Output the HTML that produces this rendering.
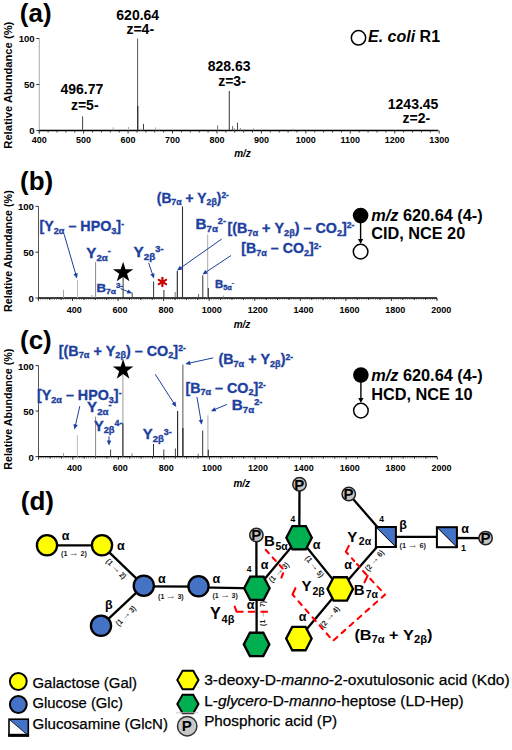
<!DOCTYPE html>
<html><head><meta charset="utf-8"><title>fig</title>
<style>
html,body{margin:0;padding:0;background:#fff;width:512px;height:750px;overflow:hidden;}
svg{display:block;}
</style></head>
<body>
<svg width="512" height="750" viewBox="0 0 512 750">
<rect width="512" height="750" fill="#fff"/>
<g font-family='"Liberation Sans",sans-serif'>
<text x="19.8" y="21.5" font-size="26" font-weight="bold" fill="#000" text-anchor="start" >(a)</text>
<text transform="translate(11.6,85.2) rotate(-90)" font-size="10.5" font-weight="bold" text-anchor="middle" textLength="127" lengthAdjust="spacingAndGlyphs">Relative Abundance (%)</text>
<line x1="39.3" y1="38.5" x2="39.3" y2="133.7" stroke="#aaa" stroke-width="1" />
<line x1="36.3" y1="38.5" x2="39.3" y2="38.5" stroke="#333" stroke-width="1" />
<text x="34.699999999999996" y="42.4" font-size="9.6" font-weight="bold" fill="#000" text-anchor="end" >100</text>
<line x1="36.3" y1="84.5" x2="39.3" y2="84.5" stroke="#333" stroke-width="1" />
<text x="34.699999999999996" y="88.4" font-size="9.6" font-weight="bold" fill="#000" text-anchor="end" >50</text>
<line x1="36.3" y1="130.5" x2="39.3" y2="130.5" stroke="#333" stroke-width="1" />
<text x="34.699999999999996" y="134.4" font-size="9.6" font-weight="bold" fill="#000" text-anchor="end" >0</text>
<line x1="39.3" y1="130.5" x2="438.3" y2="130.5" stroke="#000" stroke-width="1.7" />
<line x1="39.20000000000002" y1="130.5" x2="39.20000000000002" y2="133.5" stroke="#222" stroke-width="0.9" />
<line x1="48.087999999999994" y1="130.5" x2="48.087999999999994" y2="132.5" stroke="#222" stroke-width="0.9" />
<line x1="56.976" y1="130.5" x2="56.976" y2="132.5" stroke="#222" stroke-width="0.9" />
<line x1="65.864" y1="130.5" x2="65.864" y2="132.5" stroke="#222" stroke-width="0.9" />
<line x1="74.75200000000001" y1="130.5" x2="74.75200000000001" y2="132.5" stroke="#222" stroke-width="0.9" />
<line x1="83.64000000000001" y1="130.5" x2="83.64000000000001" y2="133.5" stroke="#222" stroke-width="0.9" />
<line x1="92.52800000000002" y1="130.5" x2="92.52800000000002" y2="132.5" stroke="#222" stroke-width="0.9" />
<line x1="101.416" y1="130.5" x2="101.416" y2="132.5" stroke="#222" stroke-width="0.9" />
<line x1="110.304" y1="130.5" x2="110.304" y2="132.5" stroke="#222" stroke-width="0.9" />
<line x1="119.19200000000001" y1="130.5" x2="119.19200000000001" y2="132.5" stroke="#222" stroke-width="0.9" />
<line x1="128.07999999999998" y1="130.5" x2="128.07999999999998" y2="133.5" stroke="#222" stroke-width="0.9" />
<line x1="136.96800000000002" y1="130.5" x2="136.96800000000002" y2="132.5" stroke="#222" stroke-width="0.9" />
<line x1="145.856" y1="130.5" x2="145.856" y2="132.5" stroke="#222" stroke-width="0.9" />
<line x1="154.74400000000003" y1="130.5" x2="154.74400000000003" y2="132.5" stroke="#222" stroke-width="0.9" />
<line x1="163.632" y1="130.5" x2="163.632" y2="132.5" stroke="#222" stroke-width="0.9" />
<line x1="172.51999999999998" y1="130.5" x2="172.51999999999998" y2="133.5" stroke="#222" stroke-width="0.9" />
<line x1="181.40800000000002" y1="130.5" x2="181.40800000000002" y2="132.5" stroke="#222" stroke-width="0.9" />
<line x1="190.296" y1="130.5" x2="190.296" y2="132.5" stroke="#222" stroke-width="0.9" />
<line x1="199.18400000000003" y1="130.5" x2="199.18400000000003" y2="132.5" stroke="#222" stroke-width="0.9" />
<line x1="208.072" y1="130.5" x2="208.072" y2="132.5" stroke="#222" stroke-width="0.9" />
<line x1="216.96000000000004" y1="130.5" x2="216.96000000000004" y2="133.5" stroke="#222" stroke-width="0.9" />
<line x1="225.848" y1="130.5" x2="225.848" y2="132.5" stroke="#222" stroke-width="0.9" />
<line x1="234.736" y1="130.5" x2="234.736" y2="132.5" stroke="#222" stroke-width="0.9" />
<line x1="243.62400000000002" y1="130.5" x2="243.62400000000002" y2="132.5" stroke="#222" stroke-width="0.9" />
<line x1="252.512" y1="130.5" x2="252.512" y2="132.5" stroke="#222" stroke-width="0.9" />
<line x1="261.40000000000003" y1="130.5" x2="261.40000000000003" y2="133.5" stroke="#222" stroke-width="0.9" />
<line x1="270.288" y1="130.5" x2="270.288" y2="132.5" stroke="#222" stroke-width="0.9" />
<line x1="279.176" y1="130.5" x2="279.176" y2="132.5" stroke="#222" stroke-width="0.9" />
<line x1="288.064" y1="130.5" x2="288.064" y2="132.5" stroke="#222" stroke-width="0.9" />
<line x1="296.952" y1="130.5" x2="296.952" y2="132.5" stroke="#222" stroke-width="0.9" />
<line x1="305.84000000000003" y1="130.5" x2="305.84000000000003" y2="133.5" stroke="#222" stroke-width="0.9" />
<line x1="314.728" y1="130.5" x2="314.728" y2="132.5" stroke="#222" stroke-width="0.9" />
<line x1="323.61600000000004" y1="130.5" x2="323.61600000000004" y2="132.5" stroke="#222" stroke-width="0.9" />
<line x1="332.504" y1="130.5" x2="332.504" y2="132.5" stroke="#222" stroke-width="0.9" />
<line x1="341.392" y1="130.5" x2="341.392" y2="132.5" stroke="#222" stroke-width="0.9" />
<line x1="350.28000000000003" y1="130.5" x2="350.28000000000003" y2="133.5" stroke="#222" stroke-width="0.9" />
<line x1="359.168" y1="130.5" x2="359.168" y2="132.5" stroke="#222" stroke-width="0.9" />
<line x1="368.05600000000004" y1="130.5" x2="368.05600000000004" y2="132.5" stroke="#222" stroke-width="0.9" />
<line x1="376.944" y1="130.5" x2="376.944" y2="132.5" stroke="#222" stroke-width="0.9" />
<line x1="385.83200000000005" y1="130.5" x2="385.83200000000005" y2="132.5" stroke="#222" stroke-width="0.9" />
<line x1="394.71999999999997" y1="130.5" x2="394.71999999999997" y2="133.5" stroke="#222" stroke-width="0.9" />
<line x1="403.608" y1="130.5" x2="403.608" y2="132.5" stroke="#222" stroke-width="0.9" />
<line x1="412.49600000000004" y1="130.5" x2="412.49600000000004" y2="132.5" stroke="#222" stroke-width="0.9" />
<line x1="421.38400000000007" y1="130.5" x2="421.38400000000007" y2="132.5" stroke="#222" stroke-width="0.9" />
<line x1="430.272" y1="130.5" x2="430.272" y2="132.5" stroke="#222" stroke-width="0.9" />
<line x1="439.16" y1="130.5" x2="439.16" y2="133.5" stroke="#222" stroke-width="0.9" />
<text x="39.20000000000002" y="142.6" font-size="9" font-weight="bold" fill="#000" text-anchor="middle" >400</text>
<text x="83.64000000000001" y="142.6" font-size="9" font-weight="bold" fill="#000" text-anchor="middle" >500</text>
<text x="128.07999999999998" y="142.6" font-size="9" font-weight="bold" fill="#000" text-anchor="middle" >600</text>
<text x="172.51999999999998" y="142.6" font-size="9" font-weight="bold" fill="#000" text-anchor="middle" >700</text>
<text x="216.96000000000004" y="142.6" font-size="9" font-weight="bold" fill="#000" text-anchor="middle" >800</text>
<text x="261.40000000000003" y="142.6" font-size="9" font-weight="bold" fill="#000" text-anchor="middle" >900</text>
<text x="305.84000000000003" y="142.6" font-size="9" font-weight="bold" fill="#000" text-anchor="middle" >1000</text>
<text x="350.28000000000003" y="142.6" font-size="9" font-weight="bold" fill="#000" text-anchor="middle" >1100</text>
<text x="394.71999999999997" y="142.6" font-size="9" font-weight="bold" fill="#000" text-anchor="middle" >1200</text>
<text x="439.16" y="142.6" font-size="9" font-weight="bold" fill="#000" text-anchor="middle" >1300</text>
<text x="242.5" y="157" font-size="10" font-weight="bold" fill="#000" text-anchor="middle" font-style="italic" >m/z</text>
<line x1="82.6" y1="116.4" x2="82.6" y2="130.5" stroke="#444" stroke-width="1" />
<line x1="113.2" y1="127.3" x2="113.2" y2="130.5" stroke="#999" stroke-width="0.8" />
<line x1="128.5" y1="127.0" x2="128.5" y2="130.5" stroke="#999" stroke-width="0.8" />
<line x1="137.6" y1="38.5" x2="137.6" y2="130.5" stroke="#555" stroke-width="1.0" />
<line x1="137.8" y1="106.0" x2="137.8" y2="130.5" stroke="#222" stroke-width="1.1" />
<line x1="141.0" y1="128.5" x2="141.0" y2="130.5" stroke="#aaa" stroke-width="0.8" />
<line x1="143.5" y1="123.9" x2="143.5" y2="130.5" stroke="#444" stroke-width="1.0" />
<line x1="155.5" y1="127.3" x2="155.5" y2="130.5" stroke="#999" stroke-width="0.8" />
<line x1="159.0" y1="128.8" x2="159.0" y2="130.5" stroke="#bbb" stroke-width="0.8" />
<line x1="217.6" y1="125.4" x2="217.6" y2="130.5" stroke="#666" stroke-width="0.9" />
<line x1="229.3" y1="90.9" x2="229.3" y2="130.5" stroke="#444" stroke-width="1.1" />
<line x1="232.6" y1="126.0" x2="232.6" y2="130.5" stroke="#555" stroke-width="0.9" />
<line x1="234.6" y1="128.4" x2="234.6" y2="130.5" stroke="#777" stroke-width="0.8" />
<line x1="237.5" y1="122.7" x2="237.5" y2="130.5" stroke="#444" stroke-width="1.0" />
<line x1="240.4" y1="128.0" x2="240.4" y2="130.5" stroke="#777" stroke-width="0.8" />
<line x1="243.6" y1="129.0" x2="243.6" y2="130.5" stroke="#999" stroke-width="0.8" />
<line x1="253.5" y1="128.4" x2="253.5" y2="130.5" stroke="#888" stroke-width="0.8" />
<line x1="292.7" y1="128.8" x2="292.7" y2="130.5" stroke="#999" stroke-width="0.8" />
<line x1="302.1" y1="128.8" x2="302.1" y2="130.5" stroke="#aaa" stroke-width="0.8" />
<text x="137.75" y="20" font-size="14" font-weight="bold" fill="#000" text-anchor="middle" >620.64</text>
<text x="140.25" y="33.7" font-size="14" font-weight="bold" fill="#000" text-anchor="middle" >z=4-</text>
<text x="81.9" y="94.3" font-size="14" font-weight="bold" fill="#000" text-anchor="middle" >496.77</text>
<text x="84.75" y="109.5" font-size="14" font-weight="bold" fill="#000" text-anchor="middle" >z=5-</text>
<text x="229.1" y="70.5" font-size="14" font-weight="bold" fill="#000" text-anchor="middle" >828.63</text>
<text x="232" y="86.2" font-size="14" font-weight="bold" fill="#000" text-anchor="middle" >z=3-</text>
<text x="413.1" y="108.7" font-size="14" font-weight="bold" fill="#000" text-anchor="middle" >1243.45</text>
<text x="416.4" y="122.5" font-size="14" font-weight="bold" fill="#000" text-anchor="middle" >z=2-</text>
<circle cx="358.5" cy="37.8" r="7.2" fill="none" stroke="#000" stroke-width="1.5"/>
<text x="368" y="41.8" font-size="16" font-weight="bold"><tspan font-style="italic">E. coli</tspan> R1</text>
<text x="20.0" y="190" font-size="26" font-weight="bold" fill="#000" text-anchor="start" >(b)</text>
<text transform="translate(11.6,251.1) rotate(-90)" font-size="10.5" font-weight="bold" text-anchor="middle" textLength="121.6" lengthAdjust="spacingAndGlyphs">Relative Abundance (%)</text>
<line x1="38.5" y1="206.4" x2="38.5" y2="301.2" stroke="#555" stroke-width="1" />
<line x1="35.5" y1="206.4" x2="38.5" y2="206.4" stroke="#333" stroke-width="1" />
<text x="33.9" y="210.3" font-size="9.6" font-weight="bold" fill="#000" text-anchor="end" >100</text>
<line x1="35.5" y1="252.2" x2="38.5" y2="252.2" stroke="#333" stroke-width="1" />
<text x="33.9" y="256.09999999999997" font-size="9.6" font-weight="bold" fill="#000" text-anchor="end" >50</text>
<line x1="35.5" y1="298" x2="38.5" y2="298" stroke="#333" stroke-width="1" />
<text x="33.9" y="301.9" font-size="9.6" font-weight="bold" fill="#000" text-anchor="end" >0</text>
<path d="M38.33,298v2.0M40.61,298v2.0M42.89,298v2.0M45.16,298v2.0M47.44,298v2.0M49.72,298v2.0M52.00,298v2.0M54.28,298v2.0M56.55,298v2.0M58.83,298v2.0M61.11,298v2.0M63.39,298v2.0M65.67,298v2.0M67.94,298v2.0M70.22,298v2.0M72.50,298v2.0M74.78,298v2.0M77.06,298v2.0M79.33,298v2.0M81.61,298v2.0M83.89,298v2.0M86.17,298v2.0M88.45,298v2.0M90.72,298v2.0M93.00,298v2.0M95.28,298v2.0M97.56,298v2.0M99.84,298v2.0M102.11,298v2.0M104.39,298v2.0M106.67,298v2.0M108.95,298v2.0M111.23,298v2.0M113.50,298v2.0M115.78,298v2.0M118.06,298v2.0M120.34,298v2.0M122.62,298v2.0M124.89,298v2.0M127.17,298v2.0M129.45,298v2.0M131.73,298v2.0M134.01,298v2.0M136.28,298v2.0M138.56,298v2.0M140.84,298v2.0M143.12,298v2.0M145.40,298v2.0M147.67,298v2.0M149.95,298v2.0M152.23,298v2.0M154.51,298v2.0M156.79,298v2.0M159.06,298v2.0M161.34,298v2.0M163.62,298v2.0M165.90,298v2.0M168.18,298v2.0M170.45,298v2.0M172.73,298v2.0M175.01,298v2.0M177.29,298v2.0M179.57,298v2.0M181.84,298v2.0M184.12,298v2.0M186.40,298v2.0M188.68,298v2.0M190.96,298v2.0M193.23,298v2.0M195.51,298v2.0M197.79,298v2.0M200.07,298v2.0M202.35,298v2.0M204.62,298v2.0M206.90,298v2.0M209.18,298v2.0M211.46,298v2.0M213.74,298v2.0M216.01,298v2.0M218.29,298v2.0M220.57,298v2.0M222.85,298v2.0M225.13,298v2.0M227.40,298v2.0M229.68,298v2.0M231.96,298v2.0M234.24,298v2.0M236.52,298v2.0M238.79,298v2.0M241.07,298v2.0M243.35,298v2.0M245.63,298v2.0M247.91,298v2.0M250.18,298v2.0M252.46,298v2.0M254.74,298v2.0M257.02,298v2.0M259.30,298v2.0M261.57,298v2.0M263.85,298v2.0M266.13,298v2.0M268.41,298v2.0M270.69,298v2.0M272.96,298v2.0M275.24,298v2.0M277.52,298v2.0M279.80,298v2.0M282.08,298v2.0M284.35,298v2.0M286.63,298v2.0M288.91,298v2.0M291.19,298v2.0M293.47,298v2.0M295.74,298v2.0M298.02,298v2.0M300.30,298v2.0M302.58,298v2.0M304.86,298v2.0M307.13,298v2.0M309.41,298v2.0M311.69,298v2.0M313.97,298v2.0M316.25,298v2.0M318.52,298v2.0M320.80,298v2.0M323.08,298v2.0M325.36,298v2.0M327.64,298v2.0M329.91,298v2.0M332.19,298v2.0M334.47,298v2.0M336.75,298v2.0M339.03,298v2.0M341.30,298v2.0M343.58,298v2.0M345.86,298v2.0M348.14,298v2.0M350.42,298v2.0M352.69,298v2.0M354.97,298v2.0M357.25,298v2.0M359.53,298v2.0M361.81,298v2.0M364.08,298v2.0M366.36,298v2.0M368.64,298v2.0M370.92,298v2.0M373.20,298v2.0M375.47,298v2.0M377.75,298v2.0M380.03,298v2.0M382.31,298v2.0M384.59,298v2.0M386.86,298v2.0M389.14,298v2.0M391.42,298v2.0M393.70,298v2.0M395.98,298v2.0M398.25,298v2.0M400.53,298v2.0M402.81,298v2.0M405.09,298v2.0M407.37,298v2.0M409.64,298v2.0M411.92,298v2.0M414.20,298v2.0M416.48,298v2.0M418.76,298v2.0M421.03,298v2.0M423.31,298v2.0M425.59,298v2.0M427.87,298v2.0M430.15,298v2.0M432.42,298v2.0M434.70,298v2.0M436.98,298v2.0" stroke="#777" stroke-width="0.6" fill="none"/>
<line x1="38.5" y1="298" x2="437" y2="298" stroke="#000" stroke-width="1.3" />
<line x1="38.33" y1="298" x2="38.33" y2="300" stroke="#222" stroke-width="0.9" />
<line x1="49.72" y1="298" x2="49.72" y2="300" stroke="#222" stroke-width="0.9" />
<line x1="61.11" y1="298" x2="61.11" y2="300" stroke="#222" stroke-width="0.9" />
<line x1="72.5" y1="298" x2="72.5" y2="301" stroke="#222" stroke-width="0.9" />
<line x1="83.89" y1="298" x2="83.89" y2="300" stroke="#222" stroke-width="0.9" />
<line x1="95.28" y1="298" x2="95.28" y2="300" stroke="#222" stroke-width="0.9" />
<line x1="106.67" y1="298" x2="106.67" y2="300" stroke="#222" stroke-width="0.9" />
<line x1="118.06" y1="298" x2="118.06" y2="301" stroke="#222" stroke-width="0.9" />
<line x1="129.45" y1="298" x2="129.45" y2="300" stroke="#222" stroke-width="0.9" />
<line x1="140.84" y1="298" x2="140.84" y2="300" stroke="#222" stroke-width="0.9" />
<line x1="152.23" y1="298" x2="152.23" y2="300" stroke="#222" stroke-width="0.9" />
<line x1="163.62" y1="298" x2="163.62" y2="301" stroke="#222" stroke-width="0.9" />
<line x1="175.01" y1="298" x2="175.01" y2="300" stroke="#222" stroke-width="0.9" />
<line x1="186.4" y1="298" x2="186.4" y2="300" stroke="#222" stroke-width="0.9" />
<line x1="197.79" y1="298" x2="197.79" y2="300" stroke="#222" stroke-width="0.9" />
<line x1="209.18" y1="298" x2="209.18" y2="301" stroke="#222" stroke-width="0.9" />
<line x1="220.57" y1="298" x2="220.57" y2="300" stroke="#222" stroke-width="0.9" />
<line x1="231.96" y1="298" x2="231.96" y2="300" stroke="#222" stroke-width="0.9" />
<line x1="243.35000000000002" y1="298" x2="243.35000000000002" y2="300" stroke="#222" stroke-width="0.9" />
<line x1="254.74" y1="298" x2="254.74" y2="301" stroke="#222" stroke-width="0.9" />
<line x1="266.13" y1="298" x2="266.13" y2="300" stroke="#222" stroke-width="0.9" />
<line x1="277.52" y1="298" x2="277.52" y2="300" stroke="#222" stroke-width="0.9" />
<line x1="288.91" y1="298" x2="288.91" y2="300" stroke="#222" stroke-width="0.9" />
<line x1="300.3" y1="298" x2="300.3" y2="301" stroke="#222" stroke-width="0.9" />
<line x1="311.69" y1="298" x2="311.69" y2="300" stroke="#222" stroke-width="0.9" />
<line x1="323.08" y1="298" x2="323.08" y2="300" stroke="#222" stroke-width="0.9" />
<line x1="334.47" y1="298" x2="334.47" y2="300" stroke="#222" stroke-width="0.9" />
<line x1="345.86" y1="298" x2="345.86" y2="301" stroke="#222" stroke-width="0.9" />
<line x1="357.25" y1="298" x2="357.25" y2="300" stroke="#222" stroke-width="0.9" />
<line x1="368.64" y1="298" x2="368.64" y2="300" stroke="#222" stroke-width="0.9" />
<line x1="380.03" y1="298" x2="380.03" y2="300" stroke="#222" stroke-width="0.9" />
<line x1="391.42" y1="298" x2="391.42" y2="301" stroke="#222" stroke-width="0.9" />
<line x1="402.81" y1="298" x2="402.81" y2="300" stroke="#222" stroke-width="0.9" />
<line x1="414.2" y1="298" x2="414.2" y2="300" stroke="#222" stroke-width="0.9" />
<line x1="425.59" y1="298" x2="425.59" y2="300" stroke="#222" stroke-width="0.9" />
<line x1="436.98" y1="298" x2="436.98" y2="301" stroke="#222" stroke-width="0.9" />
<text x="74.192" y="312.7" font-size="9" font-weight="bold" fill="#000" text-anchor="middle" >400</text>
<text x="120.06800000000001" y="312.7" font-size="9" font-weight="bold" fill="#000" text-anchor="middle" >600</text>
<text x="165.944" y="312.7" font-size="9" font-weight="bold" fill="#000" text-anchor="middle" >800</text>
<text x="211.82" y="312.7" font-size="9" font-weight="bold" fill="#000" text-anchor="middle" >1000</text>
<text x="257.696" y="312.7" font-size="9" font-weight="bold" fill="#000" text-anchor="middle" >1200</text>
<text x="303.572" y="312.7" font-size="9" font-weight="bold" fill="#000" text-anchor="middle" >1400</text>
<text x="349.448" y="312.7" font-size="9" font-weight="bold" fill="#000" text-anchor="middle" >1600</text>
<text x="395.324" y="312.7" font-size="9" font-weight="bold" fill="#000" text-anchor="middle" >1800</text>
<text x="441.2" y="312.7" font-size="9" font-weight="bold" fill="#000" text-anchor="middle" >2000</text>
<text x="242" y="328.3" font-size="10" font-weight="bold" fill="#000" text-anchor="middle" font-style="italic" >m/z</text>
<line x1="63.5" y1="289.8" x2="63.5" y2="298" stroke="#999" stroke-width="0.9" />
<line x1="77.5" y1="280" x2="77.5" y2="298" stroke="#bbb" stroke-width="1" />
<line x1="95.6" y1="262" x2="95.6" y2="298" stroke="#888" stroke-width="1" />
<line x1="123.1" y1="277" x2="123.1" y2="298" stroke="#333" stroke-width="1" />
<line x1="132.2" y1="292.5" x2="132.2" y2="298" stroke="#444" stroke-width="1" />
<line x1="153.6" y1="281.6" x2="153.6" y2="298" stroke="#333" stroke-width="1" />
<line x1="163.9" y1="290" x2="163.9" y2="298" stroke="#333" stroke-width="1" />
<line x1="175.2" y1="292" x2="175.2" y2="298" stroke="#555" stroke-width="0.8" />
<line x1="177.3" y1="271" x2="177.3" y2="298" stroke="#222" stroke-width="1.1" />
<line x1="182.5" y1="206.4" x2="182.5" y2="298" stroke="#333" stroke-width="1.1" />
<line x1="198.6" y1="294" x2="198.6" y2="298" stroke="#555" stroke-width="0.9" />
<line x1="202.8" y1="275.5" x2="202.8" y2="298" stroke="#333" stroke-width="1" />
<line x1="207.7" y1="234.5" x2="207.7" y2="298" stroke="#aaa" stroke-width="1" />
<line x1="208.3" y1="288" x2="208.3" y2="298" stroke="#222" stroke-width="1" />
<line x1="223.4" y1="295.5" x2="223.4" y2="298" stroke="#777" stroke-width="0.8" />
<line x1="92" y1="295" x2="92" y2="298" stroke="#888" stroke-width="0.8" />
<text x="20.0" y="349" font-size="26" font-weight="bold" fill="#000" text-anchor="start" >(c)</text>
<text transform="translate(11.6,409.25) rotate(-90)" font-size="10.5" font-weight="bold" text-anchor="middle" textLength="121" lengthAdjust="spacingAndGlyphs">Relative Abundance (%)</text>
<line x1="38.5" y1="365.6" x2="38.5" y2="459.8" stroke="#555" stroke-width="1" />
<line x1="35.5" y1="365.6" x2="38.5" y2="365.6" stroke="#333" stroke-width="1" />
<text x="33.9" y="369.5" font-size="9.6" font-weight="bold" fill="#000" text-anchor="end" >100</text>
<line x1="35.5" y1="411.1" x2="38.5" y2="411.1" stroke="#333" stroke-width="1" />
<text x="33.9" y="415.0" font-size="9.6" font-weight="bold" fill="#000" text-anchor="end" >50</text>
<line x1="35.5" y1="456.6" x2="38.5" y2="456.6" stroke="#333" stroke-width="1" />
<text x="33.9" y="460.5" font-size="9.6" font-weight="bold" fill="#000" text-anchor="end" >0</text>
<path d="M38.63,456.6v2.0M40.91,456.6v2.0M43.19,456.6v2.0M45.46,456.6v2.0M47.74,456.6v2.0M50.02,456.6v2.0M52.30,456.6v2.0M54.58,456.6v2.0M56.85,456.6v2.0M59.13,456.6v2.0M61.41,456.6v2.0M63.69,456.6v2.0M65.97,456.6v2.0M68.24,456.6v2.0M70.52,456.6v2.0M72.80,456.6v2.0M75.08,456.6v2.0M77.36,456.6v2.0M79.63,456.6v2.0M81.91,456.6v2.0M84.19,456.6v2.0M86.47,456.6v2.0M88.75,456.6v2.0M91.02,456.6v2.0M93.30,456.6v2.0M95.58,456.6v2.0M97.86,456.6v2.0M100.14,456.6v2.0M102.41,456.6v2.0M104.69,456.6v2.0M106.97,456.6v2.0M109.25,456.6v2.0M111.53,456.6v2.0M113.80,456.6v2.0M116.08,456.6v2.0M118.36,456.6v2.0M120.64,456.6v2.0M122.92,456.6v2.0M125.19,456.6v2.0M127.47,456.6v2.0M129.75,456.6v2.0M132.03,456.6v2.0M134.31,456.6v2.0M136.58,456.6v2.0M138.86,456.6v2.0M141.14,456.6v2.0M143.42,456.6v2.0M145.70,456.6v2.0M147.97,456.6v2.0M150.25,456.6v2.0M152.53,456.6v2.0M154.81,456.6v2.0M157.09,456.6v2.0M159.36,456.6v2.0M161.64,456.6v2.0M163.92,456.6v2.0M166.20,456.6v2.0M168.48,456.6v2.0M170.75,456.6v2.0M173.03,456.6v2.0M175.31,456.6v2.0M177.59,456.6v2.0M179.87,456.6v2.0M182.14,456.6v2.0M184.42,456.6v2.0M186.70,456.6v2.0M188.98,456.6v2.0M191.26,456.6v2.0M193.53,456.6v2.0M195.81,456.6v2.0M198.09,456.6v2.0M200.37,456.6v2.0M202.65,456.6v2.0M204.92,456.6v2.0M207.20,456.6v2.0M209.48,456.6v2.0M211.76,456.6v2.0M214.04,456.6v2.0M216.31,456.6v2.0M218.59,456.6v2.0M220.87,456.6v2.0M223.15,456.6v2.0M225.43,456.6v2.0M227.70,456.6v2.0M229.98,456.6v2.0M232.26,456.6v2.0M234.54,456.6v2.0M236.82,456.6v2.0M239.09,456.6v2.0M241.37,456.6v2.0M243.65,456.6v2.0M245.93,456.6v2.0M248.21,456.6v2.0M250.48,456.6v2.0M252.76,456.6v2.0M255.04,456.6v2.0M257.32,456.6v2.0M259.60,456.6v2.0M261.87,456.6v2.0M264.15,456.6v2.0M266.43,456.6v2.0M268.71,456.6v2.0M270.99,456.6v2.0M273.26,456.6v2.0M275.54,456.6v2.0M277.82,456.6v2.0M280.10,456.6v2.0M282.38,456.6v2.0M284.65,456.6v2.0M286.93,456.6v2.0M289.21,456.6v2.0M291.49,456.6v2.0M293.77,456.6v2.0M296.04,456.6v2.0M298.32,456.6v2.0M300.60,456.6v2.0M302.88,456.6v2.0M305.16,456.6v2.0M307.43,456.6v2.0M309.71,456.6v2.0M311.99,456.6v2.0M314.27,456.6v2.0M316.55,456.6v2.0M318.82,456.6v2.0M321.10,456.6v2.0M323.38,456.6v2.0M325.66,456.6v2.0M327.94,456.6v2.0M330.21,456.6v2.0M332.49,456.6v2.0M334.77,456.6v2.0M337.05,456.6v2.0M339.33,456.6v2.0M341.60,456.6v2.0M343.88,456.6v2.0M346.16,456.6v2.0M348.44,456.6v2.0M350.72,456.6v2.0M352.99,456.6v2.0M355.27,456.6v2.0M357.55,456.6v2.0M359.83,456.6v2.0M362.11,456.6v2.0M364.38,456.6v2.0M366.66,456.6v2.0M368.94,456.6v2.0M371.22,456.6v2.0M373.50,456.6v2.0M375.77,456.6v2.0M378.05,456.6v2.0M380.33,456.6v2.0M382.61,456.6v2.0M384.89,456.6v2.0M387.16,456.6v2.0M389.44,456.6v2.0M391.72,456.6v2.0M394.00,456.6v2.0M396.28,456.6v2.0M398.55,456.6v2.0M400.83,456.6v2.0M403.11,456.6v2.0M405.39,456.6v2.0M407.67,456.6v2.0M409.94,456.6v2.0M412.22,456.6v2.0M414.50,456.6v2.0M416.78,456.6v2.0M419.06,456.6v2.0M421.33,456.6v2.0M423.61,456.6v2.0M425.89,456.6v2.0M428.17,456.6v2.0M430.45,456.6v2.0M432.72,456.6v2.0M435.00,456.6v2.0M437.28,456.6v2.0" stroke="#777" stroke-width="0.6" fill="none"/>
<line x1="38.5" y1="456.6" x2="437" y2="456.6" stroke="#000" stroke-width="1.3" />
<line x1="38.629999999999995" y1="456.6" x2="38.629999999999995" y2="458.6" stroke="#222" stroke-width="0.9" />
<line x1="50.019999999999996" y1="456.6" x2="50.019999999999996" y2="458.6" stroke="#222" stroke-width="0.9" />
<line x1="61.41" y1="456.6" x2="61.41" y2="458.6" stroke="#222" stroke-width="0.9" />
<line x1="72.8" y1="456.6" x2="72.8" y2="459.6" stroke="#222" stroke-width="0.9" />
<line x1="84.19" y1="456.6" x2="84.19" y2="458.6" stroke="#222" stroke-width="0.9" />
<line x1="95.58" y1="456.6" x2="95.58" y2="458.6" stroke="#222" stroke-width="0.9" />
<line x1="106.97" y1="456.6" x2="106.97" y2="458.6" stroke="#222" stroke-width="0.9" />
<line x1="118.36" y1="456.6" x2="118.36" y2="459.6" stroke="#222" stroke-width="0.9" />
<line x1="129.75" y1="456.6" x2="129.75" y2="458.6" stroke="#222" stroke-width="0.9" />
<line x1="141.14000000000001" y1="456.6" x2="141.14000000000001" y2="458.6" stroke="#222" stroke-width="0.9" />
<line x1="152.53" y1="456.6" x2="152.53" y2="458.6" stroke="#222" stroke-width="0.9" />
<line x1="163.92000000000002" y1="456.6" x2="163.92000000000002" y2="459.6" stroke="#222" stroke-width="0.9" />
<line x1="175.31" y1="456.6" x2="175.31" y2="458.6" stroke="#222" stroke-width="0.9" />
<line x1="186.70000000000002" y1="456.6" x2="186.70000000000002" y2="458.6" stroke="#222" stroke-width="0.9" />
<line x1="198.09" y1="456.6" x2="198.09" y2="458.6" stroke="#222" stroke-width="0.9" />
<line x1="209.48000000000002" y1="456.6" x2="209.48000000000002" y2="459.6" stroke="#222" stroke-width="0.9" />
<line x1="220.87" y1="456.6" x2="220.87" y2="458.6" stroke="#222" stroke-width="0.9" />
<line x1="232.26000000000002" y1="456.6" x2="232.26000000000002" y2="458.6" stroke="#222" stroke-width="0.9" />
<line x1="243.65000000000003" y1="456.6" x2="243.65000000000003" y2="458.6" stroke="#222" stroke-width="0.9" />
<line x1="255.04000000000002" y1="456.6" x2="255.04000000000002" y2="459.6" stroke="#222" stroke-width="0.9" />
<line x1="266.43" y1="456.6" x2="266.43" y2="458.6" stroke="#222" stroke-width="0.9" />
<line x1="277.82" y1="456.6" x2="277.82" y2="458.6" stroke="#222" stroke-width="0.9" />
<line x1="289.21000000000004" y1="456.6" x2="289.21000000000004" y2="458.6" stroke="#222" stroke-width="0.9" />
<line x1="300.6" y1="456.6" x2="300.6" y2="459.6" stroke="#222" stroke-width="0.9" />
<line x1="311.99" y1="456.6" x2="311.99" y2="458.6" stroke="#222" stroke-width="0.9" />
<line x1="323.38" y1="456.6" x2="323.38" y2="458.6" stroke="#222" stroke-width="0.9" />
<line x1="334.77000000000004" y1="456.6" x2="334.77000000000004" y2="458.6" stroke="#222" stroke-width="0.9" />
<line x1="346.16" y1="456.6" x2="346.16" y2="459.6" stroke="#222" stroke-width="0.9" />
<line x1="357.55" y1="456.6" x2="357.55" y2="458.6" stroke="#222" stroke-width="0.9" />
<line x1="368.94" y1="456.6" x2="368.94" y2="458.6" stroke="#222" stroke-width="0.9" />
<line x1="380.33" y1="456.6" x2="380.33" y2="458.6" stroke="#222" stroke-width="0.9" />
<line x1="391.72" y1="456.6" x2="391.72" y2="459.6" stroke="#222" stroke-width="0.9" />
<line x1="403.11" y1="456.6" x2="403.11" y2="458.6" stroke="#222" stroke-width="0.9" />
<line x1="414.5" y1="456.6" x2="414.5" y2="458.6" stroke="#222" stroke-width="0.9" />
<line x1="425.89" y1="456.6" x2="425.89" y2="458.6" stroke="#222" stroke-width="0.9" />
<line x1="437.28000000000003" y1="456.6" x2="437.28000000000003" y2="459.6" stroke="#222" stroke-width="0.9" />
<text x="74.49199999999999" y="471.4" font-size="9" font-weight="bold" fill="#000" text-anchor="middle" >400</text>
<text x="120.36800000000001" y="471.4" font-size="9" font-weight="bold" fill="#000" text-anchor="middle" >600</text>
<text x="166.244" y="471.4" font-size="9" font-weight="bold" fill="#000" text-anchor="middle" >800</text>
<text x="212.12" y="471.4" font-size="9" font-weight="bold" fill="#000" text-anchor="middle" >1000</text>
<text x="257.99600000000004" y="471.4" font-size="9" font-weight="bold" fill="#000" text-anchor="middle" >1200</text>
<text x="303.872" y="471.4" font-size="9" font-weight="bold" fill="#000" text-anchor="middle" >1400</text>
<text x="349.748" y="471.4" font-size="9" font-weight="bold" fill="#000" text-anchor="middle" >1600</text>
<text x="395.624" y="471.4" font-size="9" font-weight="bold" fill="#000" text-anchor="middle" >1800</text>
<text x="441.5" y="471.4" font-size="9" font-weight="bold" fill="#000" text-anchor="middle" >2000</text>
<text x="241.8" y="486.6" font-size="10" font-weight="bold" fill="#000" text-anchor="middle" font-style="italic" >m/z</text>
<line x1="63.5" y1="453" x2="63.5" y2="456.6" stroke="#999" stroke-width="0.9" />
<line x1="77.4" y1="435.3" x2="77.4" y2="456.6" stroke="#bbb" stroke-width="1" />
<line x1="95.6" y1="416.5" x2="95.6" y2="456.6" stroke="#888" stroke-width="1" />
<line x1="110.6" y1="449.6" x2="110.6" y2="456.6" stroke="#444" stroke-width="1" />
<line x1="122.9" y1="372" x2="122.9" y2="456.6" stroke="#999" stroke-width="1" />
<line x1="122.9" y1="423.6" x2="122.9" y2="456.6" stroke="#333" stroke-width="1.1" />
<line x1="132" y1="453.5" x2="132" y2="456.6" stroke="#666" stroke-width="0.9" />
<line x1="153.5" y1="444" x2="153.5" y2="456.6" stroke="#333" stroke-width="1" />
<line x1="163.8" y1="449.5" x2="163.8" y2="456.6" stroke="#444" stroke-width="1" />
<line x1="175.4" y1="448.5" x2="175.4" y2="456.6" stroke="#444" stroke-width="1" />
<line x1="177.6" y1="411" x2="177.6" y2="456.6" stroke="#222" stroke-width="1.1" />
<line x1="182.9" y1="364.6" x2="182.9" y2="456.6" stroke="#555" stroke-width="1.0" />
<line x1="182.9" y1="428.0" x2="182.9" y2="456.6" stroke="#222" stroke-width="1.1" />
<line x1="198.2" y1="453.8" x2="198.2" y2="456.6" stroke="#555" stroke-width="0.9" />
<line x1="202.7" y1="430.5" x2="202.7" y2="456.6" stroke="#333" stroke-width="1" />
<line x1="207.9" y1="415.3" x2="207.9" y2="456.6" stroke="#aaa" stroke-width="1" />
<line x1="208.3" y1="449.7" x2="208.3" y2="456.6" stroke="#222" stroke-width="1" />
<text x="39.5" y="231.3" font-weight="bold" fill="#1d3f9e" stroke="#1d3f9e" stroke-width="0.35" textLength="84.5" lengthAdjust="spacingAndGlyphs" xml:space="preserve"><tspan font-size="14.8">[Y</tspan><tspan dy="2.81" font-size="9.472000000000001">2α</tspan><tspan dy="-2.81" font-size="14.8"> – HPO</tspan><tspan dy="2.81" font-size="9.472000000000001">3</tspan><tspan dy="-2.81" font-size="14.8">]</tspan><tspan dy="-4.44" font-size="8.88">-</tspan></text>
<text x="86.3" y="258.4" font-weight="bold" fill="#1d3f9e" stroke="#1d3f9e" stroke-width="0.35" textLength="24.5" lengthAdjust="spacingAndGlyphs" xml:space="preserve"><tspan font-size="14.8">Y</tspan><tspan dy="2.81" font-size="9.472000000000001">2α</tspan><tspan dy="-7.25" font-size="8.88">-</tspan></text>
<text x="96.5" y="291.7" font-weight="bold" fill="#1d3f9e" stroke="#1d3f9e" stroke-width="0.35" textLength="26.5" lengthAdjust="spacingAndGlyphs" xml:space="preserve"><tspan font-size="11">B</tspan><tspan dy="2.09" font-size="7.04">7α</tspan><tspan dy="-5.39" font-size="6.6">3-</tspan></text>
<text x="133.6" y="256.7" font-weight="bold" fill="#1d3f9e" stroke="#1d3f9e" stroke-width="0.35" textLength="30" lengthAdjust="spacingAndGlyphs" xml:space="preserve"><tspan font-size="14.8">Y</tspan><tspan dy="2.81" font-size="9.472000000000001">2β</tspan><tspan dy="-7.25" font-size="8.88">3-</tspan></text>
<text x="156.8" y="202.5" font-weight="bold" fill="#1d3f9e" stroke="#1d3f9e" stroke-width="0.35" textLength="72" lengthAdjust="spacingAndGlyphs" xml:space="preserve"><tspan font-size="14.8">(B</tspan><tspan dy="2.81" font-size="9.472000000000001">7α</tspan><tspan dy="-2.81" font-size="14.8"> + Y</tspan><tspan dy="2.81" font-size="9.472000000000001">2β</tspan><tspan dy="-2.81" font-size="14.8">)</tspan><tspan dy="-4.44" font-size="8.88">2-</tspan></text>
<text x="195.5" y="228.8" font-weight="bold" fill="#1d3f9e" stroke="#1d3f9e" stroke-width="0.35" textLength="30.5" lengthAdjust="spacingAndGlyphs" xml:space="preserve"><tspan font-size="14.8">B</tspan><tspan dy="2.81" font-size="9.472000000000001">7α</tspan><tspan dy="-7.25" font-size="8.88">2-</tspan></text>
<text x="227.5" y="232.8" font-weight="bold" fill="#1d3f9e" stroke="#1d3f9e" stroke-width="0.35" textLength="127" lengthAdjust="spacingAndGlyphs" xml:space="preserve"><tspan font-size="14.8">[(B</tspan><tspan dy="2.81" font-size="9.472000000000001">7α</tspan><tspan dy="-2.81" font-size="14.8"> + Y</tspan><tspan dy="2.81" font-size="9.472000000000001">2β</tspan><tspan dy="-2.81" font-size="14.8">) – CO</tspan><tspan dy="2.81" font-size="9.472000000000001">2</tspan><tspan dy="-2.81" font-size="14.8">]</tspan><tspan dy="-4.44" font-size="8.88">2-</tspan></text>
<text x="241.3" y="253.2" font-weight="bold" fill="#1d3f9e" stroke="#1d3f9e" stroke-width="0.35" textLength="80" lengthAdjust="spacingAndGlyphs" xml:space="preserve"><tspan font-size="14.8">[B</tspan><tspan dy="2.81" font-size="9.472000000000001">7α</tspan><tspan dy="-2.81" font-size="14.8"> – CO</tspan><tspan dy="2.81" font-size="9.472000000000001">2</tspan><tspan dy="-2.81" font-size="14.8">]</tspan><tspan dy="-4.44" font-size="8.88">2-</tspan></text>
<text x="215.0" y="288.1" font-weight="bold" fill="#1d3f9e" stroke="#1d3f9e" stroke-width="0.35" textLength="19" lengthAdjust="spacingAndGlyphs" xml:space="preserve"><tspan font-size="10">B</tspan><tspan dy="1.90" font-size="6.4">5α</tspan><tspan dy="-4.90" font-size="6.0">-</tspan></text>
<line x1="64.2" y1="234.5" x2="75.74" y2="274.18" stroke="#1d3f9e" stroke-width="1"/>
<polygon points="77.0,278.5 73.49,274.31 77.72,273.08" fill="#1d3f9e"/>
<line x1="148.6" y1="262.8" x2="152.54" y2="274.34" stroke="#1d3f9e" stroke-width="1"/>
<polygon points="154.0,278.6 150.30,274.58 154.46,273.16" fill="#1d3f9e"/>
<line x1="120.5" y1="288.6" x2="128.02" y2="291.62" stroke="#1d3f9e" stroke-width="1"/>
<polygon points="132.2,293.3 126.74,293.48 128.38,289.39" fill="#1d3f9e"/>
<line x1="221.7" y1="239.0" x2="180.68" y2="267.91" stroke="#1d3f9e" stroke-width="1"/>
<polygon points="177.0,270.5 179.82,265.82 182.35,269.42" fill="#1d3f9e"/>
<line x1="231.0" y1="255.5" x2="206.15" y2="272.01" stroke="#1d3f9e" stroke-width="1"/>
<polygon points="202.4,274.5 205.35,269.90 207.78,273.57" fill="#1d3f9e"/>
<polygon points="123.10,261.80 125.52,269.26 133.37,269.26 127.02,273.87 129.45,281.34 123.10,276.73 116.75,281.34 119.18,273.87 112.83,269.26 120.68,269.26" fill="#000"/>
<line x1="162.40" y1="277.80" x2="162.40" y2="286.20" stroke="#cc0000" stroke-width="2.2" stroke-linecap="round"/>
<line x1="166.04" y1="279.90" x2="158.76" y2="284.10" stroke="#cc0000" stroke-width="2.2" stroke-linecap="round"/>
<line x1="166.04" y1="284.10" x2="158.76" y2="279.90" stroke="#cc0000" stroke-width="2.2" stroke-linecap="round"/>
<circle cx="360.6" cy="215.6" r="7.8" fill="#000"/>
<circle cx="360.6" cy="251.6" r="7.3" fill="#fff" stroke="#000" stroke-width="1.5"/>
<line x1="360.6" y1="222.6" x2="360.60" y2="239.50" stroke="#000" stroke-width="1.4"/>
<polygon points="360.6,244.0 358.00,239.00 363.20,239.00" fill="#000"/>
<text x="371.2" y="221.3" font-size="16" font-weight="bold" textLength="111.5" lengthAdjust="spacingAndGlyphs"><tspan font-style="italic">m/z</tspan> 620.64 (4-)</text>
<text x="371.2" y="239.2" font-size="16" font-weight="bold" textLength="94" lengthAdjust="spacingAndGlyphs">CID, NCE 20</text>
<text x="58.8" y="355.5" font-weight="bold" fill="#1d3f9e" stroke="#1d3f9e" stroke-width="0.35" textLength="127" lengthAdjust="spacingAndGlyphs" xml:space="preserve"><tspan font-size="14.8">[(B</tspan><tspan dy="2.81" font-size="9.472000000000001">7α</tspan><tspan dy="-2.81" font-size="14.8"> + Y</tspan><tspan dy="2.81" font-size="9.472000000000001">2β</tspan><tspan dy="-2.81" font-size="14.8">) – CO</tspan><tspan dy="2.81" font-size="9.472000000000001">2</tspan><tspan dy="-2.81" font-size="14.8">]</tspan><tspan dy="-4.44" font-size="8.88">2-</tspan></text>
<text x="218.5" y="364.3" font-weight="bold" fill="#1d3f9e" stroke="#1d3f9e" stroke-width="0.35" textLength="74.5" lengthAdjust="spacingAndGlyphs" xml:space="preserve"><tspan font-size="14.8">(B</tspan><tspan dy="2.81" font-size="9.472000000000001">7α</tspan><tspan dy="-2.81" font-size="14.8"> + Y</tspan><tspan dy="2.81" font-size="9.472000000000001">2β</tspan><tspan dy="-2.81" font-size="14.8">)</tspan><tspan dy="-4.44" font-size="8.88">2-</tspan></text>
<text x="37.0" y="400.4" font-weight="bold" fill="#1d3f9e" stroke="#1d3f9e" stroke-width="0.35" textLength="84.5" lengthAdjust="spacingAndGlyphs" xml:space="preserve"><tspan font-size="14.8">[Y</tspan><tspan dy="2.81" font-size="9.472000000000001">2α</tspan><tspan dy="-2.81" font-size="14.8"> – HPO</tspan><tspan dy="2.81" font-size="9.472000000000001">3</tspan><tspan dy="-2.81" font-size="14.8">]</tspan><tspan dy="-4.44" font-size="8.88">-</tspan></text>
<text x="87.1" y="412.2" font-weight="bold" fill="#1d3f9e" stroke="#1d3f9e" stroke-width="0.35" textLength="24.5" lengthAdjust="spacingAndGlyphs" xml:space="preserve"><tspan font-size="14.8">Y</tspan><tspan dy="2.81" font-size="9.472000000000001">2α</tspan><tspan dy="-7.25" font-size="8.88">-</tspan></text>
<text x="185.4" y="392.6" font-weight="bold" fill="#1d3f9e" stroke="#1d3f9e" stroke-width="0.35" textLength="80.5" lengthAdjust="spacingAndGlyphs" xml:space="preserve"><tspan font-size="14.8">[B</tspan><tspan dy="2.81" font-size="9.472000000000001">7α</tspan><tspan dy="-2.81" font-size="14.8"> – CO</tspan><tspan dy="2.81" font-size="9.472000000000001">2</tspan><tspan dy="-2.81" font-size="14.8">]</tspan><tspan dy="-4.44" font-size="8.88">2-</tspan></text>
<text x="231.8" y="409.7" font-weight="bold" fill="#1d3f9e" stroke="#1d3f9e" stroke-width="0.35" textLength="30.5" lengthAdjust="spacingAndGlyphs" xml:space="preserve"><tspan font-size="14.8">B</tspan><tspan dy="2.81" font-size="9.472000000000001">7α</tspan><tspan dy="-7.25" font-size="8.88">2-</tspan></text>
<text x="93.9" y="430.5" font-weight="bold" fill="#1d3f9e" stroke="#1d3f9e" stroke-width="0.35" textLength="28.5" lengthAdjust="spacingAndGlyphs" xml:space="preserve"><tspan font-size="14.8">Y</tspan><tspan dy="2.81" font-size="9.472000000000001">2β</tspan><tspan dy="-7.25" font-size="8.88">4-</tspan></text>
<text x="142.8" y="439.0" font-weight="bold" fill="#1d3f9e" stroke="#1d3f9e" stroke-width="0.35" textLength="29" lengthAdjust="spacingAndGlyphs" xml:space="preserve"><tspan font-size="14.8">Y</tspan><tspan dy="2.81" font-size="9.472000000000001">2β</tspan><tspan dy="-7.25" font-size="8.88">3-</tspan></text>
<line x1="79.8" y1="406.2" x2="75.50" y2="425.01" stroke="#1d3f9e" stroke-width="1"/>
<polygon points="74.5,429.4 73.47,424.04 77.76,425.02" fill="#1d3f9e"/>
<line x1="109.0" y1="436.3" x2="109.00" y2="441.00" stroke="#1d3f9e" stroke-width="1"/>
<polygon points="109.0,445.5 106.80,440.50 111.20,440.50" fill="#1d3f9e"/>
<line x1="155.2" y1="374.2" x2="173.87" y2="403.22" stroke="#1d3f9e" stroke-width="1"/>
<polygon points="176.3,407.0 171.74,403.99 175.45,401.60" fill="#1d3f9e"/>
<line x1="213.2" y1="357.9" x2="189.70" y2="363.04" stroke="#1d3f9e" stroke-width="1"/>
<polygon points="185.3,364.0 189.71,360.78 190.65,365.08" fill="#1d3f9e"/>
<line x1="196.9" y1="396.9" x2="200.94" y2="420.37" stroke="#1d3f9e" stroke-width="1"/>
<polygon points="201.7,424.8 198.68,420.25 203.02,419.50" fill="#1d3f9e"/>
<line x1="226.9" y1="404.4" x2="214.95" y2="409.45" stroke="#1d3f9e" stroke-width="1"/>
<polygon points="210.8,411.2 214.55,407.23 216.26,411.28" fill="#1d3f9e"/>
<polygon points="123.10,359.10 125.52,366.56 133.37,366.56 127.02,371.17 129.45,378.64 123.10,374.03 116.75,378.64 119.18,371.17 112.83,366.56 120.68,366.56" fill="#000"/>
<circle cx="360.9" cy="375.0" r="7.8" fill="#000"/>
<circle cx="360.9" cy="410.6" r="7.3" fill="#fff" stroke="#000" stroke-width="1.5"/>
<line x1="360.9" y1="382.0" x2="360.90" y2="398.50" stroke="#000" stroke-width="1.4"/>
<polygon points="360.9,403.0 358.30,398.00 363.50,398.00" fill="#000"/>
<text x="371.2" y="381.3" font-size="16" font-weight="bold" textLength="111.5" lengthAdjust="spacingAndGlyphs"><tspan font-style="italic">m/z</tspan> 620.64 (4-)</text>
<text x="371.2" y="399.7" font-size="16" font-weight="bold" textLength="101.4" lengthAdjust="spacingAndGlyphs">HCD, NCE 10</text>
<text x="20.8" y="510.2" font-size="26" font-weight="bold" fill="#000" text-anchor="start" >(d)</text>
<line x1="47" y1="545.3" x2="102" y2="545.3" stroke="#000" stroke-width="2.3" />
<line x1="102" y1="545.3" x2="143.8" y2="585.7" stroke="#000" stroke-width="2.3" />
<line x1="143.8" y1="585.7" x2="101" y2="625.8" stroke="#000" stroke-width="2.3" />
<line x1="143.8" y1="586.3" x2="198.5" y2="586.6" stroke="#000" stroke-width="2.3" />
<line x1="198.5" y1="587.3" x2="256.9" y2="588.3" stroke="#000" stroke-width="2.3" />
<line x1="256.4" y1="588.3" x2="256.4" y2="535" stroke="#000" stroke-width="2.3" />
<line x1="256.6" y1="588.3" x2="256.6" y2="644.4" stroke="#000" stroke-width="2.3" />
<line x1="256.9" y1="588.3" x2="299.1" y2="537.7" stroke="#000" stroke-width="2.3" />
<line x1="299.3" y1="537.7" x2="299.5" y2="484.3" stroke="#000" stroke-width="2.3" />
<line x1="299.1" y1="537.7" x2="340.3" y2="588.9" stroke="#000" stroke-width="2.3" />
<line x1="340.3" y1="588.9" x2="298.9" y2="638.6" stroke="#000" stroke-width="2.3" />
<line x1="340.3" y1="588.9" x2="385.9" y2="536.8" stroke="#000" stroke-width="2.3" />
<line x1="385.9" y1="536.8" x2="348.75" y2="494" stroke="#000" stroke-width="2.3" />
<line x1="385.9" y1="536.9" x2="446.7" y2="536.9" stroke="#000" stroke-width="2.3" />
<line x1="446.7" y1="538.0" x2="485.6" y2="538.2" stroke="#000" stroke-width="2.3" />
<circle cx="47" cy="545.3" r="10.1" fill="#ffff00" stroke="#000" stroke-width="2.3"/>
<circle cx="102" cy="545.3" r="10.1" fill="#ffff00" stroke="#000" stroke-width="2.3"/>
<circle cx="143.8" cy="585.7" r="10.1" fill="#4472c4" stroke="#000" stroke-width="2.3"/>
<circle cx="198.5" cy="586.3" r="10.1" fill="#4472c4" stroke="#000" stroke-width="2.3"/>
<circle cx="101" cy="625.8" r="10.1" fill="#4472c4" stroke="#000" stroke-width="2.3"/>
<polygon points="244.15,588.30 250.20,576.65 263.60,576.65 269.65,588.30 263.60,599.95 250.20,599.95" fill="#00b050" stroke="#000" stroke-width="2.3" stroke-linejoin="miter"/>
<polygon points="286.35,537.70 292.40,526.05 305.80,526.05 311.85,537.70 305.80,549.35 292.40,549.35" fill="#00b050" stroke="#000" stroke-width="2.3" stroke-linejoin="miter"/>
<polygon points="243.85,644.40 249.90,632.75 263.30,632.75 269.35,644.40 263.30,656.05 249.90,656.05" fill="#00b050" stroke="#000" stroke-width="2.3" stroke-linejoin="miter"/>
<polygon points="327.55,588.90 333.60,577.25 347.00,577.25 353.05,588.90 347.00,600.55 333.60,600.55" fill="#ffff00" stroke="#000" stroke-width="2.3" stroke-linejoin="miter"/>
<polygon points="286.15,638.60 292.20,626.95 305.60,626.95 311.65,638.60 305.60,650.25 292.20,650.25" fill="#ffff00" stroke="#000" stroke-width="2.3" stroke-linejoin="miter"/>
<rect x="375.90" y="527.00" width="20.0" height="20.0" fill="#fff"/>
<polygon points="375.90,527.00 395.90,527.00 395.90,547.00" fill="#4472c4"/>
<line x1="375.90" y1="527.00" x2="395.90" y2="547.00" stroke="#000" stroke-width="1"/>
<rect x="375.90" y="527.00" width="20.0" height="20.0" fill="none" stroke="#000" stroke-width="2"/>
<rect x="436.90" y="527.20" width="20.0" height="20.0" fill="#fff"/>
<polygon points="436.90,527.20 456.90,527.20 456.90,547.20" fill="#4472c4"/>
<line x1="436.90" y1="527.20" x2="456.90" y2="547.20" stroke="#000" stroke-width="1"/>
<rect x="436.90" y="527.20" width="20.0" height="20.0" fill="none" stroke="#000" stroke-width="2"/>
<circle cx="299.5" cy="484.3" r="6.7" fill="#c4c4c4" stroke="#222" stroke-width="1.5"/>
<text x="299.3" y="489.55" font-size="15" font-weight="bold" text-anchor="middle">P</text>
<circle cx="256.4" cy="535" r="6.7" fill="#c4c4c4" stroke="#222" stroke-width="1.5"/>
<text x="256.2" y="540.25" font-size="15" font-weight="bold" text-anchor="middle">P</text>
<circle cx="348.75" cy="494" r="6.7" fill="#c4c4c4" stroke="#222" stroke-width="1.5"/>
<text x="348.55" y="499.25" font-size="15" font-weight="bold" text-anchor="middle">P</text>
<circle cx="485.6" cy="538.1" r="6.7" fill="#c4c4c4" stroke="#222" stroke-width="1.5"/>
<text x="485.40000000000003" y="543.35" font-size="15" font-weight="bold" text-anchor="middle">P</text>
<text x="65.7" y="540.4" font-size="12.5" font-weight="bold" fill="#000" text-anchor="middle" >α</text>
<text x="120.8" y="549.8" font-size="12.5" font-weight="bold" fill="#000" text-anchor="middle" >α</text>
<text x="161.75" y="583.4" font-size="12.5" font-weight="bold" fill="#000" text-anchor="middle" >α</text>
<text x="108.75" y="609.2" font-size="12.5" font-weight="bold" fill="#000" text-anchor="middle" >β</text>
<text x="216.4" y="583.0" font-size="12.5" font-weight="bold" fill="#000" text-anchor="middle" >α</text>
<text x="264.5" y="568.5" font-size="12.5" font-weight="bold" fill="#000" text-anchor="middle" >α</text>
<text x="250.5" y="608.6" font-size="12.5" font-weight="bold" fill="#000" text-anchor="middle" >α</text>
<text x="316.5" y="548.7" font-size="12.5" font-weight="bold" fill="#000" text-anchor="middle" >α</text>
<text x="348.0" y="569.3" font-size="12.5" font-weight="bold" fill="#000" text-anchor="middle" >α</text>
<text x="302.5" y="620.9" font-size="12.5" font-weight="bold" fill="#000" text-anchor="middle" >α</text>
<text x="403.0" y="529.4" font-size="12.5" font-weight="bold" fill="#000" text-anchor="middle" >β</text>
<text x="465.0" y="533.1" font-size="12.5" font-weight="bold" fill="#000" text-anchor="middle" >α</text>
<text x="249.0" y="572.3" font-size="8.5" font-weight="bold" fill="#000" text-anchor="middle" >4</text>
<text x="292.75" y="521.9" font-size="8.5" font-weight="bold" fill="#000" text-anchor="middle" >4</text>
<text x="381.5" y="522.4" font-size="8.5" font-weight="bold" fill="#000" text-anchor="middle" >4</text>
<text x="463.6" y="550.5" font-size="9" font-weight="bold" fill="#000" text-anchor="middle" >1</text>
<text transform="translate(73.9,554.0) rotate(0)" y="1.95" font-size="7.8" font-weight="bold" fill="#1a1a1a" text-anchor="middle" textLength="25.8" lengthAdjust="spacingAndGlyphs">(1 <tspan font-size="11" font-weight="normal" fill="#555">→</tspan> 2)</text>
<text transform="translate(115.8,569.3) rotate(45)" y="1.95" font-size="7.8" font-weight="bold" fill="#1a1a1a" text-anchor="middle" textLength="25" lengthAdjust="spacingAndGlyphs">(1 <tspan font-size="11" font-weight="normal" fill="#555">→</tspan> 2)</text>
<text transform="translate(170.9,597.0) rotate(0)" y="1.95" font-size="7.8" font-weight="bold" fill="#1a1a1a" text-anchor="middle" textLength="25.7" lengthAdjust="spacingAndGlyphs">(1 <tspan font-size="11" font-weight="normal" fill="#555">→</tspan> 3)</text>
<text transform="translate(126.3,616.2) rotate(-45)" y="1.95" font-size="7.8" font-weight="bold" fill="#1a1a1a" text-anchor="middle" textLength="25" lengthAdjust="spacingAndGlyphs">(1 <tspan font-size="11" font-weight="normal" fill="#555">→</tspan> 3)</text>
<text transform="translate(225.2,596.1) rotate(0)" y="1.95" font-size="7.8" font-weight="bold" fill="#1a1a1a" text-anchor="middle" textLength="25.4" lengthAdjust="spacingAndGlyphs">(1 <tspan font-size="11" font-weight="normal" fill="#555">→</tspan> 3)</text>
<text transform="translate(279.4,572.7) rotate(-45)" y="1.95" font-size="7.8" font-weight="bold" fill="#1a1a1a" text-anchor="middle" textLength="25" lengthAdjust="spacingAndGlyphs">(1 <tspan font-size="11" font-weight="normal" fill="#555">→</tspan> 3)</text>
<text transform="translate(263.0,613.4) rotate(-90)" y="1.95" font-size="7.8" font-weight="bold" fill="#1a1a1a" text-anchor="middle" textLength="25" lengthAdjust="spacingAndGlyphs">(1 <tspan font-size="11" font-weight="normal" fill="#555">→</tspan> 7)</text>
<text transform="translate(314.0,567.0) rotate(52)" y="1.95" font-size="7.8" font-weight="bold" fill="#1a1a1a" text-anchor="middle" textLength="25" lengthAdjust="spacingAndGlyphs">(1 <tspan font-size="11" font-weight="normal" fill="#555">→</tspan> 5)</text>
<text transform="translate(375.0,561.0) rotate(-50)" y="1.95" font-size="7.8" font-weight="bold" fill="#1a1a1a" text-anchor="middle" textLength="25" lengthAdjust="spacingAndGlyphs">(2 <tspan font-size="11" font-weight="normal" fill="#555">→</tspan> 6)</text>
<text transform="translate(330.4,617.3) rotate(-50)" y="1.95" font-size="7.8" font-weight="bold" fill="#1a1a1a" text-anchor="middle" textLength="25" lengthAdjust="spacingAndGlyphs">(2 <tspan font-size="11" font-weight="normal" fill="#555">→</tspan> 4)</text>
<text transform="translate(412.7,546.4) rotate(0)" y="1.95" font-size="7.8" font-weight="bold" fill="#1a1a1a" text-anchor="middle" textLength="26.5" lengthAdjust="spacingAndGlyphs">(1 <tspan font-size="11" font-weight="normal" fill="#555">→</tspan> 6)</text>
<text x="264.0" y="546.2" font-weight="bold" fill="#000" xml:space="preserve"><tspan font-size="15">B</tspan><tspan dy="3.80" dx="0.6" font-size="10.5">5α</tspan></text>
<text x="210.0" y="618.8" font-weight="bold" fill="#000" xml:space="preserve"><tspan font-size="16.2">Y</tspan><tspan dy="4.40" dx="0.8" font-size="11">4β</tspan></text>
<text x="301.6" y="591.0" font-weight="bold" fill="#000" xml:space="preserve"><tspan font-size="15">Y</tspan><tspan dy="3.60" dx="0.8" font-size="10.5">2β</tspan></text>
<text x="353.8" y="594.6" font-weight="bold" fill="#000" xml:space="preserve"><tspan font-size="15">B</tspan><tspan dy="3.40" dx="1.0" font-size="10.5">7α</tspan></text>
<text x="347.3" y="541.6" font-weight="bold" fill="#000" xml:space="preserve"><tspan font-size="15">Y</tspan><tspan dy="3.80" dx="1.5" font-size="10.5">2α</tspan></text>
<text x="354.4" y="639.7" font-weight="bold" fill="#000" textLength="78" lengthAdjust="spacingAndGlyphs" xml:space="preserve"><tspan font-size="15.3">(B</tspan><tspan dy="3.60" font-size="10.5">7α</tspan><tspan dy="-3.60" font-size="15.3"> + Y</tspan><tspan dy="3.60" font-size="10.5">2β</tspan><tspan dy="-3.60" font-size="15.3">)</tspan></text>
<path d="M265.70,549.80 L268.84,553.26M272.61,557.42 L275.75,560.88M279.52,565.04 L282.67,568.50M283.13,573.25 L281.40,577.60" fill="none" stroke="#ff0000" stroke-width="2.1" stroke-linecap="round" stroke-linejoin="round"/>
<path d="M234.70,606.70 L236.60,611.70 L242.75,611.70M248.75,611.70 L254.49,611.70M261.37,611.70 L267.10,611.70" fill="none" stroke="#ff0000" stroke-width="2.1" stroke-linecap="round" stroke-linejoin="round"/>
<path d="M348.80,545.90 L345.90,551.70 L347.92,553.94M351.93,558.40 L354.23,560.96M357.00,564.04 L359.30,566.60" fill="none" stroke="#ff0000" stroke-width="2.1" stroke-linecap="round" stroke-linejoin="round"/>
<path d="M367.60,575.80 L364.50,582.40" fill="none" stroke="#ff0000" stroke-width="2.1" stroke-linecap="round" stroke-linejoin="round"/>
<path d="M295.40,588.20 L292.50,594.50 L294.52,596.81M298.47,601.32 L301.66,604.97M305.49,609.36 L308.69,613.01M312.52,617.39 L315.72,621.04M319.55,625.42 L322.74,629.07M326.58,633.46 L329.77,637.11M333.68,640.19 L337.31,636.97M341.66,633.10 L345.29,629.88M349.64,626.01 L353.27,622.79M357.62,618.93 L361.25,615.70M365.60,611.84 L369.23,608.61M373.58,604.75 L377.20,601.53M381.56,597.66 L385.00,594.60 L384.83,594.42M380.86,590.16 L377.56,586.61M373.59,582.36 L370.28,578.81M366.31,574.55 L363.00,571.00" fill="none" stroke="#ff0000" stroke-width="2.1" stroke-linecap="round" stroke-linejoin="round"/>
<circle cx="18.3" cy="681.5" r="8.4" fill="#ffff00" stroke="#000" stroke-width="2"/>
<circle cx="18.3" cy="704.5" r="8.4" fill="#4472c4" stroke="#000" stroke-width="2"/>
<rect x="9" y="719.2" width="19.3" height="16.5" fill="#fff"/>
<polygon points="9,719.2 28.3,719.2 28.3,735.7" fill="#4472c4"/>
<line x1="9" y1="719.2" x2="28.3" y2="735.7" stroke="#000" stroke-width="0.8"/>
<rect x="9" y="719.2" width="19.3" height="16.5" fill="none" stroke="#000" stroke-width="1.6"/>
<rect x="8.2" y="733.8" width="20.9" height="3" fill="#000"/>
<polygon points="177.30,680.00 182.60,670.80 193.20,670.80 198.50,680.00 193.20,689.20 182.60,689.20" fill="#ffff00" stroke="#000" stroke-width="2" stroke-linejoin="miter"/>
<polygon points="177.30,704.00 182.60,694.80 193.20,694.80 198.50,704.00 193.20,713.20 182.60,713.20" fill="#00b050" stroke="#000" stroke-width="2" stroke-linejoin="miter"/>
<line x1="176" y1="712.8" x2="198.5" y2="712.8" stroke="#c8c8c8" stroke-width="1"/>
<circle cx="187.2" cy="726.2" r="9.7" fill="#c8c8c8" stroke="#333" stroke-width="1.5"/>
<text x="186.8" y="731.3" font-size="15" font-weight="bold" text-anchor="middle">P</text>
<text x="32.5" y="688.2" font-size="15.5" font-weight="normal" stroke="#000" stroke-width="0.25" textLength="104.5" lengthAdjust="spacingAndGlyphs">Galactose (Gal)</text>
<text x="32.5" y="708.4" font-size="15.5" font-weight="normal" stroke="#000" stroke-width="0.25" textLength="90.5" lengthAdjust="spacingAndGlyphs">Glucose (Glc)</text>
<text x="32.5" y="729.2" font-size="15.5" font-weight="normal" stroke="#000" stroke-width="0.25" textLength="135.5" lengthAdjust="spacingAndGlyphs">Glucosamine (GlcN)</text>
<text x="204.2" y="685.2" font-size="15.5" font-weight="normal" stroke="#000" stroke-width="0.25" textLength="305.5" lengthAdjust="spacingAndGlyphs">3-deoxy-D-<tspan font-style="italic">manno</tspan>-2-oxutulosonic acid (Kdo)</text>
<text x="204.2" y="705.6" font-size="15.5" font-weight="normal" stroke="#000" stroke-width="0.25" textLength="259.5" lengthAdjust="spacingAndGlyphs">L-<tspan font-style="italic">glycero</tspan>-D-<tspan font-style="italic">manno</tspan>-heptose (LD-Hep)</text>
<text x="204.2" y="726.2" font-size="15.5" font-weight="normal" stroke="#000" stroke-width="0.25" textLength="133" lengthAdjust="spacingAndGlyphs">Phosphoric acid (P)</text>
</g>
</svg>
</body></html>
